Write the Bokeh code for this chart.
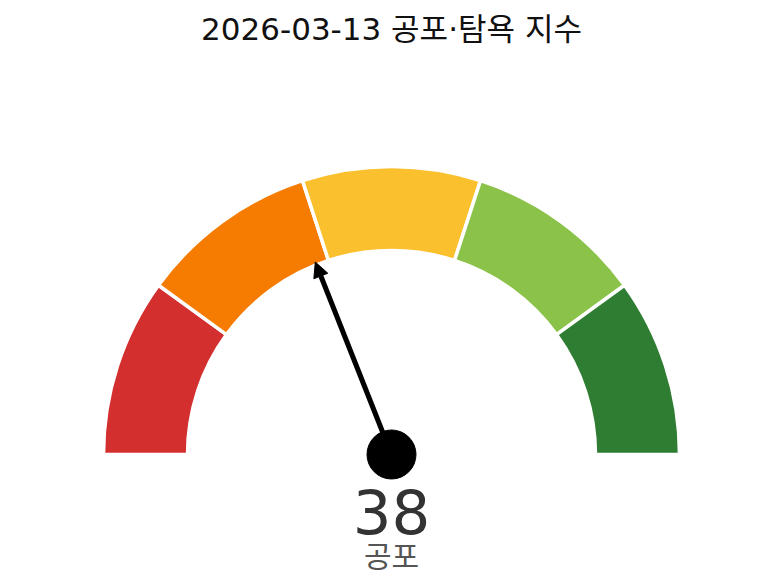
import math
from bokeh.plotting import figure
from bokeh.models import Range1d, Arrow, NormalHead, ColumnDataSource
from bokeh.core.properties import value
from bokeh.embed import file_html
from bokeh.resources import INLINE

title_text = "2026-03-13 공포·탐욕 지수"
bounds = [0, 20, 40, 60, 80, 100]
colors = ["#d32f2f", "#f57c00", "#fbc02d", "#8bc34a", "#2e7d32"]
score = 38
label = "공포"

W, H = 774, 578
cx, cy = 391, H - 454
r_in, r_out = 204, 288
FONT = value("DejaVu Sans, Noto Sans CJK KR")

def ang(v):
    return math.pi * (1 - v / 100.0)

p = figure(width=W, height=H, output_backend="svg", toolbar_location=None,
           x_range=Range1d(0, W), y_range=Range1d(0, H), min_border=0,
           match_aspect=False)
p.axis.visible = False
p.grid.visible = False
p.outline_line_color = None
p.background_fill_color = "white"
p.border_fill_color = "white"

src = ColumnDataSource(dict(
    x=[cx] * 5, y=[cy] * 5,
    start=[ang(b) for b in bounds[1:]],
    end=[ang(b) for b in bounds[:-1]],
    color=colors,
))
p.annular_wedge(x="x", y="y", inner_radius=r_in, outer_radius=r_out,
                start_angle="start", end_angle="end", fill_color="color",
                line_color="white", line_width=3.5, source=src)

a = ang(score)
tip_r = 207
p.add_layout(Arrow(x_start=cx, y_start=cy,
                   x_end=cx + tip_r * math.cos(a), y_end=cy + tip_r * math.sin(a),
                   line_width=5, line_color="black",
                   end=NormalHead(size=15, fill_color="black", line_color="black", line_width=1)))
p.scatter([cx], [cy], size=49, color="black", marker="circle")

p.text([cx], [H - 28], text=[title_text], text_font=FONT,
       text_font_size="31px", text_align="center", text_baseline="middle", text_color="#111111")
p.text([cx], [H - 511], text=[str(score)], text_font=FONT,
       text_font_size="61px", text_align="center", text_baseline="middle", text_color="#333333")
p.text([cx], [H - 556], text=[label], text_font=FONT,
       text_font_size="30px", text_align="center", text_baseline="middle", text_color="#555555")

open("out.html", "w").write(file_html(p, INLINE))
